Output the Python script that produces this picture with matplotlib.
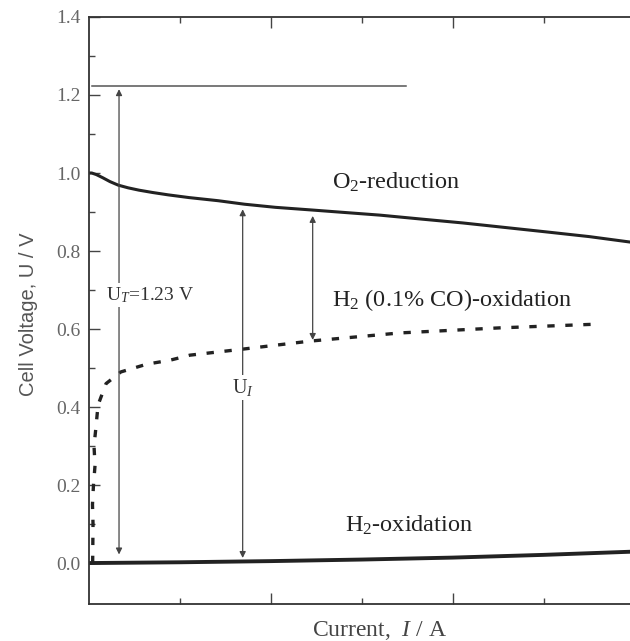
import numpy as np
import matplotlib.pyplot as plt

plt.rcParams['font.family'] = ['Liberation Serif', 'DejaVu Serif']
plt.rcParams['mathtext.fontset'] = 'custom'
plt.rcParams['mathtext.rm'] = 'Liberation Serif'
plt.rcParams['mathtext.it'] = 'Liberation Serif:italic'

# O2-reduction curve
o2_x = [0.0, 0.03, 0.08, 0.15, 0.23, 0.32, 0.43, 0.55, 0.7, 0.87, 1.1,
        1.42, 1.71, 2.05, 2.46, 2.8, 3.2, 3.65, 4.11, 4.55, 5.03, 5.5, 5.95]
o2_y = [1.0, 1.0, 0.996, 0.988, 0.978, 0.969, 0.962, 0.956, 0.95, 0.944,
        0.937, 0.929, 0.920, 0.912, 0.905, 0.899, 0.892, 0.882, 0.872,
        0.861, 0.849, 0.837, 0.823]

# H2 (0.1% CO)-oxidation curve
co_x = [0.04, 0.044, 0.038, 0.049, 0.066, 0.055, 0.077, 0.099, 0.187, 0.35,
        0.637, 0.89, 1.11, 1.71, 2.43, 3.42, 4.52, 5.53]
co_y = [0.0, 0.10, 0.15, 0.20, 0.25, 0.30, 0.35, 0.405, 0.46, 0.49,
        0.51, 0.52, 0.533, 0.549, 0.569, 0.59, 0.603, 0.612]

# H2-oxidation curve
h2_x = [0.0, 1.0, 2.0, 3.0, 4.0, 5.0, 5.95]
h2_y = [0.0, 0.002, 0.005, 0.009, 0.014, 0.021, 0.029]

U_T = 1.23

fig = plt.figure(figsize=(6.3, 6.41), dpi=100)
ax = fig.add_axes([0.1413, 0.0577, 0.8587, 0.9158])

ink = '#222222'
ax.plot(o2_x, o2_y, color=ink, lw=2.2, solid_joinstyle='round')
ax.plot(co_x, co_y, color=ink, lw=2.4, ls=(0, (2.2, 3.2)))
ax.plot(h2_x, h2_y, color=ink, lw=2.8)

# thermodynamic voltage line
ax.plot([0.03, 3.49], [1.223, 1.223], color='#555555', lw=1.1)

arrow = dict(arrowstyle='<|-|>', color='#444444', lw=0.9,
             mutation_scale=9, shrinkA=0, shrinkB=0)
ax.annotate('', xy=(0.33, 1.215), xytext=(0.33, 0.022), arrowprops=arrow)
ax.annotate('', xy=(1.69, 0.907), xytext=(1.69, 0.013), arrowprops=arrow)
ax.annotate('', xy=(2.46, 0.890), xytext=(2.46, 0.572), arrowprops=arrow)

box = dict(fc='white', ec='none', pad=1.5)
ax.text(0.19, 0.687, 'U$_T$=1.23 V', fontsize=14, color='#333333',
        va='center', ha='left', bbox=box, zorder=5)
ax.text(1.69, 0.45, 'U$_I$', fontsize=14.5, color='#333333',
        va='center', ha='center', bbox=box, zorder=5)

ax.text(2.67, 0.977, 'O$_2$-reduction', fontsize=17.5, color='#222222',
        va='center', ha='left')
ax.text(2.67, 0.674, 'H$_2$ (0.1% CO)-oxidation', fontsize=17.5,
        color='#222222', va='center', ha='left')
ax.text(2.81, 0.097, 'H$_2$-oxidation', fontsize=17.5, color='#222222',
        va='center', ha='left')

ax.set_xlim(0, 5.95)
ax.set_ylim(-0.105, 1.4)
ax.set_yticks(np.arange(0, 1.41, 0.2))
ax.set_yticks(np.arange(0.1, 1.4, 0.2), minor=True)
ax.set_yticklabels([f'{v:.1f}' for v in np.arange(0, 1.41, 0.2)])
ax.set_xticks([2, 4])
ax.set_xticks([1, 3, 5], minor=True)
ax.set_xticklabels([])

ax.tick_params(which='both', direction='in', top=True, right=False,
               color='#444444', width=1.0, labelsize=14, labelcolor='#666666',
               pad=6)
ax.tick_params(which='major', length=8)
ax.tick_params(which='minor', length=4)

ax.spines['right'].set_visible(False)
for s in ['left', 'top', 'bottom']:
    ax.spines[s].set_color('#333333')
    ax.spines[s].set_linewidth(1.3)

fig.text(0.045, 0.51, 'Cell Voltage, U / V', rotation=90, fontsize=14.5,
         family='Liberation Sans', color='#555555', va='center', ha='center')
fig.text(0.603, 0.017, 'Current,  $I$ / A', fontsize=17, color='#444444',
         va='center', ha='center')

fig.savefig('out.png', dpi=100)
